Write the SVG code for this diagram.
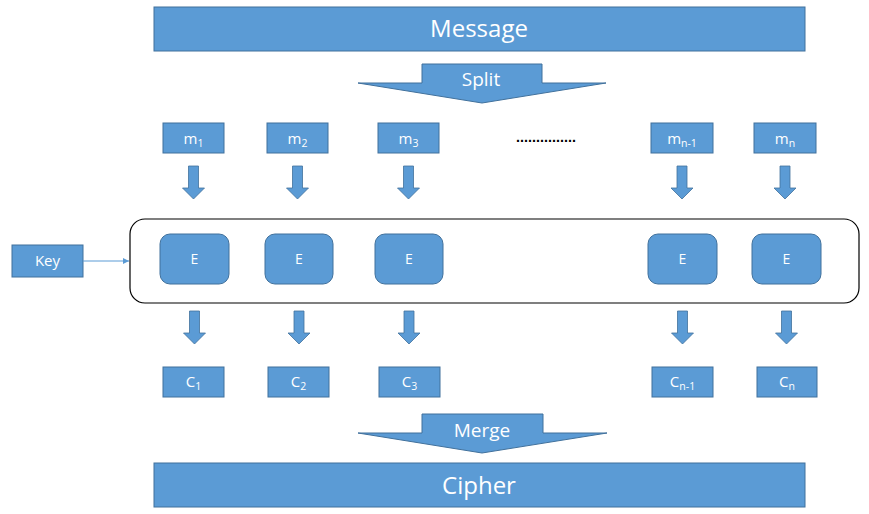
<svg xmlns="http://www.w3.org/2000/svg" width="869" height="514" viewBox="0 0 869 514">
<style>
.b{fill:#5B9BD5;stroke:#41719C;stroke-width:1}
.t{fill:#ffffff;font-family:"Open Sans","Liberation Sans",sans-serif;text-anchor:middle}
.s{font-size:15px}
.e{font-size:14px}
.big{font-size:24px}
.sub{font-size:10.5px}
.arr{fill:#5B9BD5;stroke:#41719C;stroke-width:0.8}
</style>
<defs>
<marker id="ah" markerWidth="8" markerHeight="8" refX="6" refY="3" orient="auto" markerUnits="userSpaceOnUse">
<path d="M0,0 L6,3 L0,6 Z" fill="#5B9BD5"/>
</marker>
<path id="dn" d="M-5,0 H5 V22 H11 L0,33 L-11,22 H-5 Z"/>
</defs>
<rect width="869" height="514" fill="#ffffff"/>

<g id="message"><rect class="b" x="154" y="7" width="651" height="44"/><text class="t big" x="479" y="37">Message</text></g>
<g id="split"><path class="b" d="M422,64 H542 V83 H606 L482,103 L358,83 H422 Z"/><text class="t" style="font-size:19px" x="481" y="86">Split</text></g>

<g id="m1"><rect class="b" x="163" y="123" width="61" height="30"/><text class="t s" x="193.5" y="144">m<tspan class="sub" dy="3">1</tspan></text></g>
<g id="m2"><rect class="b" x="267" y="123" width="61" height="30"/><text class="t s" x="297.5" y="144">m<tspan class="sub" dy="3">2</tspan></text></g>
<g id="m3"><rect class="b" x="378" y="123" width="61" height="30"/><text class="t s" x="408.5" y="144">m<tspan class="sub" dy="3">3</tspan></text></g>
<g id="dots"><text x="516" y="142" textLength="60" lengthAdjust="spacingAndGlyphs" style="font-family:'Liberation Sans',sans-serif;font-size:14px;font-weight:bold;fill:#000">...............</text></g>
<g id="mn1"><rect class="b" x="651" y="123" width="62" height="30"/><text class="t s" x="682" y="144">m<tspan class="sub" dy="3">n-1</tspan></text></g>
<g id="mn"><rect class="b" x="754" y="123" width="62" height="30"/><text class="t s" x="785" y="144">m<tspan class="sub" dy="3">n</tspan></text></g>

<g id="container"><rect x="130" y="219" width="729" height="84" rx="15" ry="15" fill="none" stroke="#000" stroke-width="1.2"/></g>

<g id="e1"><rect class="b" x="160" y="234" width="69" height="50" rx="10"/><text class="t e" x="194.5" y="264">E</text></g>
<g id="e2"><rect class="b" x="265" y="234" width="68" height="50" rx="10"/><text class="t e" x="299" y="264">E</text></g>
<g id="e3"><rect class="b" x="375" y="234" width="68" height="50" rx="10"/><text class="t e" x="409" y="264">E</text></g>
<g id="e4"><rect class="b" x="648" y="234" width="69" height="50" rx="10"/><text class="t e" x="682.5" y="264">E</text></g>
<g id="e5"><rect class="b" x="752" y="234" width="69" height="50" rx="10"/><text class="t e" x="786.5" y="264">E</text></g>

<g id="key"><rect class="b" x="12" y="245" width="71" height="32"/><text class="t s" x="47.5" y="266">Key</text></g>

<g id="c1"><rect class="b" x="163" y="367" width="61" height="30"/><text class="t s" x="193.5" y="387">C<tspan class="sub" dy="3">1</tspan></text></g>
<g id="c2"><rect class="b" x="268" y="367" width="61" height="30"/><text class="t s" x="298.5" y="387">C<tspan class="sub" dy="3">2</tspan></text></g>
<g id="c3"><rect class="b" x="379" y="367" width="61" height="30"/><text class="t s" x="409.5" y="387">C<tspan class="sub" dy="3">3</tspan></text></g>
<g id="cn1"><rect class="b" x="652" y="367" width="61" height="30"/><text class="t s" x="682.5" y="387">C<tspan class="sub" dy="3">n-1</tspan></text></g>
<g id="cn"><rect class="b" x="757" y="367" width="60" height="30"/><text class="t s" x="787" y="387">C<tspan class="sub" dy="3">n</tspan></text></g>

<g id="merge"><path class="b" d="M422,414 H543 V433 H607 L482,453 L358,433 H422 Z"/><text class="t" style="font-size:19px" x="482" y="437">Merge</text></g>
<g id="cipher"><rect class="b" x="154" y="463" width="651" height="44"/><text class="t big" x="479" y="494">Cipher</text></g>

<g id="connectors">
<line x1="83" y1="261" x2="129" y2="261" stroke="#5B9BD5" stroke-width="1" marker-end="url(#ah)"/>
<use href="#dn" class="arr" x="193.5" y="166"/>
<use href="#dn" class="arr" x="297.5" y="166"/>
<use href="#dn" class="arr" x="408.5" y="166"/>
<use href="#dn" class="arr" x="682" y="166"/>
<use href="#dn" class="arr" x="785" y="166"/>
<use href="#dn" class="arr" x="194.5" y="311"/>
<use href="#dn" class="arr" x="299" y="311"/>
<use href="#dn" class="arr" x="409" y="311"/>
<use href="#dn" class="arr" x="682.5" y="311"/>
<use href="#dn" class="arr" x="786.5" y="311"/>
</g>
</svg>
